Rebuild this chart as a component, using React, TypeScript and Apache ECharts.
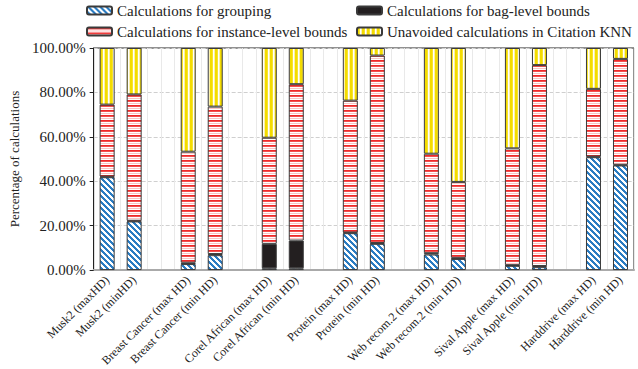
import React, { useEffect, useRef } from "react";
import * as echarts from "echarts";

const categories = [
  "Musk2 (maxHD)", "Musk2 (minHD)",
  "Breast Cancer (max HD)", "Breast Cancer (min HD)",
  "Corel African (max HD)", "Corel African (min HD)",
  "Protein (max HD)", "Protein (min HD)",
  "Web recom.2 (max HD)", "Web recom.2 (min HD)",
  "Sival Apple (max HD)", "Sival Apple (min HD)",
  "Harddrive (max HD)", "Harddrive (min HD)",
];
const seriesNames = [
  "Calculations for grouping",
  "Calculations for bag-level bounds",
  "Calculations for instance-level bounds",
  "Unavoided calculations in Citation KNN",
];
const grouping = [41.8, 21.9, 2.7, 6.7, 0.8, 0.8, 16.6, 11.8, 7.0, 5.0, 1.9, 1.3, 50.8, 47.1];
const bagLevel = [0.3, 0.3, 0.6, 0.5, 11.0, 12.5, 0.3, 0.4, 0.6, 0.5, 0.3, 0.5, 0.3, 0.3];
const instanceLevel = [32.4, 56.9, 50.0, 66.4, 47.8, 70.4, 59.4, 84.4, 44.8, 34.2, 52.6, 90.5, 30.5, 47.7];
const unavoided = [25.5, 20.9, 46.7, 26.4, 40.4, 16.3, 23.7, 3.4, 47.6, 60.3, 45.2, 7.7, 18.4, 4.9];
const yTicks = [0, 20, 40, 60, 80, 100];

function makePattern(w: number, h: number, fn: (x: number, y: number) => string) {
  const c = document.createElement("canvas");
  c.width = w;
  c.height = h;
  const ctx = c.getContext("2d")!;
  for (let y = 0; y < h; y++) {
    for (let x = 0; x < w; x++) {
      ctx.fillStyle = fn(x, y);
      ctx.fillRect(x, y, 1, 1);
    }
  }
  return { image: c, repeat: "repeat" } as any;
}

export default function App() {
  const ref = useRef<HTMLDivElement>(null);
  useEffect(() => {
    if (!ref.current) return;
    const chart = echarts.init(ref.current, null, { renderer: "svg" });

    const bluePat = makePattern(6, 6, (x, y) => ((x - y + 12) % 6 < 3 ? "#2b7cc2" : "#ffffff"));
    const redRows = ["#ee2a2a", "#f25050", "#ffffff", "#f9c4c4", "#ffffff"];
    const redPat = makePattern(5, 5, (_x, y) => redRows[y]);
    const yelCols = ["#f4dc00", "#f4dc00", "#f7e430", "#ffffff", "#fbf1a8"];
    const yelPat = makePattern(5, 5, (x) => yelCols[x]);

    const slots: string[] = [];
    const slotIdx: number[] = [];
    categories.forEach((c, i) => {
      slotIdx.push(slots.length);
      slots.push(c);
      if (i % 2 === 1 && i < categories.length - 1) slots.push("");
    });
    const toSlots = (arr: number[]) => {
      const out: any[] = slots.map(() => "-");
      arr.forEach((v, i) => (out[slotIdx[i]] = v));
      return out;
    };
    const fine: string[] = [];
    for (let i = 0; i < slots.length * 2; i++) fine.push(String(i));

    const font = "Liberation Serif";
    const border = { borderColor: "#3a3a3a", borderWidth: 1 };
    const values = [grouping, bagLevel, instanceLevel, unavoided];
    const colors = [bluePat, "#231f20", redPat, yelPat];

    const legendPos = [
      { left: 86, top: 3 },
      { left: 356, top: 3 },
      { left: 86, top: 24 },
      { left: 356, top: 24 },
    ];

    chart.setOption({
      animation: false,
      backgroundColor: "#ffffff",
      textStyle: { fontFamily: font },
      legend: seriesNames.map((n, i) => ({
        data: [n],
        ...legendPos[i],
        padding: 0,
        itemWidth: 25,
        itemHeight: 8,
        itemGap: 4,
        selectedMode: false,
        textStyle: { fontFamily: font, fontSize: 15, color: "#222" },
      })),
      grid: {
        left: 84,
        right: 4,
        top: 48,
        bottom: 96,
        show: true,
        borderColor: "#222",
        borderWidth: 1,
        backgroundColor: "transparent",
      },
      xAxis: [
        {
          type: "category",
          data: slots,
          axisLine: { lineStyle: { color: "#aaaaaa", width: 2 } },
          axisTick: { show: false },
          splitLine: { show: false },
          axisLabel: {
            interval: 0,
            rotate: 45,
            margin: 8,
            fontFamily: font,
            fontSize: 12,
            color: "#222",
          },
        },
        {
          type: "category",
          data: fine,
          position: "bottom",
          axisLine: { show: false },
          axisTick: { show: false },
          axisLabel: { show: false },
          splitLine: { show: true, interval: 0, lineStyle: { color: "#e9e9e9", width: 1 } },
        },
      ],
      yAxis: {
        type: "value",
        min: 0,
        max: 100,
        interval: 20,
        name: "Percentage of calculations",
        nameLocation: "middle",
        nameGap: 62,
        nameTextStyle: { fontFamily: font, fontSize: 13, color: "#222" },
        axisLine: { show: true, lineStyle: { color: "#222", width: 1 } },
        axisTick: { show: true, length: 4, lineStyle: { color: "#222" } },
        splitLine: { show: true, lineStyle: { color: "#cfcfcf", type: "dashed" } },
        axisLabel: {
          margin: 8,
          fontFamily: font,
          fontSize: 15,
          color: "#222",
          formatter: (v: number) => (yTicks.includes(v) ? v.toFixed(2) + "%" : ""),
        },
      },
      series: seriesNames.map((n, i) => ({
        name: n,
        type: "bar",
        stack: "total",
        xAxisIndex: 0,
        barWidth: 15,
        data: toSlots(values[i]),
        itemStyle: { color: colors[i], ...border },
      })),
    });
    return () => chart.dispose();
  }, []);
  return (
    <div
      ref={ref}
      style={{ position: "fixed", left: 0, top: 0, width: 638, height: 369, background: "#fff" }}
    />
  );
}
